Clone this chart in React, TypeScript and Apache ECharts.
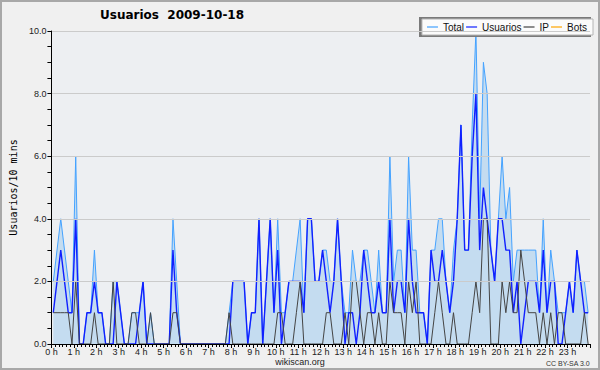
import React, { useEffect, useRef } from 'react';
import * as echarts from 'echarts';

// 10-minute slots, 144 per day
const hourLabels = ['0 h','1 h','2 h','3 h','4 h','5 h','6 h','7 h','8 h','9 h','10 h','11 h','12 h','13 h','14 h','15 h','16 h','17 h','18 h','19 h','20 h','21 h','22 h','23 h'];
const yTickLabels = ['0.0', '2.0', '4.0', '6.0', '8.0', '10.0'];
const seriesNames = ['Total', 'Usuarios', 'IP', 'Bots'];

const total = [
  2,3,4,3,2,1,6,0,0,1,1,3,
  1,1,0,0,2,2,1,0,0,1,1,1,
  2,0,1,0,0,0,0,0,4,2,0,0,
  0,0,0,0,0,0,0,0,0,0,0,1,
  2,2,2,2,0,1,1,4,0,2,4,1,
  4,1,1,2,2,3,4,1,4,4,2,2,
  3,3,2,2,4,2,1,1,3,2,2,3,
  3,2,1,3,1,1,6,2,3,3,1,6,
  3,3,1,1,0,3,3,4,4,2,1,3,
  4,7,3,3,7,10,4,9,8,3,2,4,
  6,4,5,2,3,3,3,3,3,3,1,4,
  1,3,2,1,1,1,2,1,3,2,2,1,
];
const usuarios = [
  1,2,3,2,1,1,4,0,0,1,1,2,
  1,1,0,0,0,2,1,0,0,0,0,1,
  2,0,0,0,0,0,0,0,3,1,0,0,
  0,0,0,0,0,0,0,0,0,0,0,0,
  2,2,2,2,0,1,1,4,0,2,4,1,
  3,0,1,2,2,2,2,1,4,4,2,2,
  3,2,1,2,4,2,0,1,1,0,1,3,
  2,1,1,2,1,1,4,1,2,2,1,4,
  2,1,1,1,0,3,2,2,3,2,1,2,
  4,7,3,3,6,8,3,5,4,3,2,4,
  4,3,3,1,2,0,1,2,2,2,1,3,
  1,2,2,0,0,1,2,1,3,2,1,1,
];
const ip = [
  1,1,1,1,1,0,2,0,0,0,0,1,
  0,0,0,0,2,0,0,0,0,1,1,0,
  0,0,1,0,0,0,0,0,1,1,0,0,
  0,0,0,0,0,0,0,0,0,0,0,1,
  0,0,0,0,0,0,0,0,0,0,0,0,
  1,1,0,0,0,1,2,0,0,0,0,0,
  0,1,1,0,0,0,1,0,2,2,1,0,
  1,1,0,1,0,0,2,1,1,1,0,2,
  1,2,0,0,0,0,1,2,1,0,0,1,
  0,0,0,0,1,2,1,4,4,0,0,0,
  2,1,2,1,1,3,2,1,1,1,0,1,
  0,1,0,1,1,0,0,0,0,0,1,0,
];
const bots = [
  0,0,0,0,0,0,0,0,0,0,0,0,
  0,0,0,0,0,0,0,0,0,0,0,0,
  0,0,0,0,0,0,0,0,0,0,0,0,
  0,0,0,0,0,0,0,0,0,0,0,0,
  0,0,0,0,0,0,0,0,0,0,0,0,
  0,0,0,0,0,0,0,0,0,0,0,0,
  0,0,0,0,0,0,0,0,0,0,0,0,
  0,0,0,0,0,0,0,0,0,0,0,0,
  0,0,0,0,0,0,0,0,0,0,0,0,
  0,0,0,0,0,0,0,0,0,0,0,0,
  0,0,0,0,0,0,0,0,0,0,0,0,
  0,0,0,0,0,0,0,0,0,0,0,0,
];

const SANS = "'Liberation Sans', Arial, sans-serif";

export default function App() {
  const ref = useRef<HTMLDivElement>(null);
  useEffect(() => {
    if (!ref.current) return;
    const chart = echarts.init(ref.current, null, { renderer: 'svg' });
    const pts = (arr: number[]) => arr.map((v, i) => [i + 0.5, v]);
    chart.setOption({
      animation: false,
      backgroundColor: '#f0f0f0',
      title: {
        text: 'Usuarios  2009-10-18',
        left: 95,
        top: 4,
        textStyle: { fontFamily: "'DejaVu Sans', sans-serif", fontWeight: 'bold', fontSize: 12, color: '#000' },
      },
      legend: {
        data: seriesNames,
        right: 7,
        top: 19,
        icon: 'rect',
        itemWidth: 11,
        itemHeight: 1.2,
        itemGap: 2,
        padding: [3, 6, 3, 5],
        backgroundColor: '#fbfbfb',
        borderColor: '#b4b4b4',
        borderWidth: 1,
        z: 6,
        textStyle: { fontFamily: SANS, fontSize: 10, color: '#111' },
      },
      grid: {
        left: 44, right: 10, top: 31, bottom: 26,
        show: true, backgroundColor: '#edeff2', borderWidth: 0,
      },
      xAxis: {
        type: 'value',
        min: 0,
        max: 144,
        interval: 6,
        z: 10,
        axisLine: { show: true, lineStyle: { color: '#000', width: 1 } },
        axisTick: { show: true, length: 4, lineStyle: { color: '#000' } },
        minorTick: { show: true, splitNumber: 6, length: 3, lineStyle: { color: '#000' } },
        splitLine: { show: false },
        axisLabel: {
          formatter: (v: number) => hourLabels[v / 6] ?? '',
          fontFamily: SANS, fontSize: 9, color: '#222', margin: 3,
          showMaxLabel: false,
        },
      },
      yAxis: {
        type: 'value',
        min: 0,
        max: 10,
        interval: 2,
        z: 10,
        name: 'Usuarios/10 mins',
        nameLocation: 'middle',
        nameGap: 32,
        nameTextStyle: { fontFamily: "'DejaVu Sans Mono', monospace", fontSize: 10, color: '#000' },
        axisLine: { show: true, lineStyle: { color: '#000', width: 1 } },
        axisTick: { show: true, length: 4, lineStyle: { color: '#000' } },
        minorTick: { show: true, splitNumber: 4, length: 4, lineStyle: { color: '#000' } },
        splitLine: { show: true, lineStyle: { color: '#cbcbcb', width: 1 } },
        axisLabel: {
          formatter: (v: number) => yTickLabels[v / 2] ?? '',
          fontFamily: SANS, fontSize: 9, color: '#222', margin: 5,
        },
      },
      series: [
        {
          name: 'Total', type: 'line', data: pts(total), showSymbol: false, symbol: 'none',
          color: '#44a2ff', lineStyle: { color: '#44a2ff', width: 1 },
          areaStyle: { color: '#c4dcf0', opacity: 1 }, z: 2,
        },
        {
          name: 'Usuarios', type: 'line', data: pts(usuarios), showSymbol: false, symbol: 'none',
          color: '#1020ff', lineStyle: { color: '#1020ff', width: 1.4 }, z: 3,
        },
        {
          name: 'IP', type: 'line', data: pts(ip), showSymbol: false, symbol: 'none',
          color: '#444444', lineStyle: { color: '#444444', width: 1 }, z: 4,
        },
        {
          name: 'Bots', type: 'line', data: pts(bots), showSymbol: false, symbol: 'none',
          color: '#ffa500', lineStyle: { color: '#ffa500', width: 1 }, z: 1,
        },
      ],
      graphic: [
        {
          type: 'rect', silent: true, z: 5,
          shape: { x: 419, y: 17, width: 172, height: 20 },
          style: { fill: '#7a7a7a' },
        },
        {
          type: 'rect', silent: true, z: 100,
          shape: { x: 1, y: 1, width: 598, height: 368 },
          style: { fill: 'none', stroke: '#a8a8a8', lineWidth: 2 },
        },
        {
          type: 'text', left: 'center', top: 357, silent: true,
          style: { text: 'wikiscan.org', fontFamily: SANS, fontSize: 9, fill: '#222' },
        },
        {
          type: 'text', right: 10, top: 360, silent: true,
          style: { text: 'CC BY-SA 3.0', fontFamily: SANS, fontSize: 7, fill: '#333' },
        },
      ],
    });
    return () => chart.dispose();
  }, []);
  return (
    <div style={{ position: 'fixed', left: 0, top: 0, width: 600, height: 370, background: '#f0f0f0' }}>
      <div ref={ref} style={{ width: 600, height: 370 }} />
    </div>
  );
}
